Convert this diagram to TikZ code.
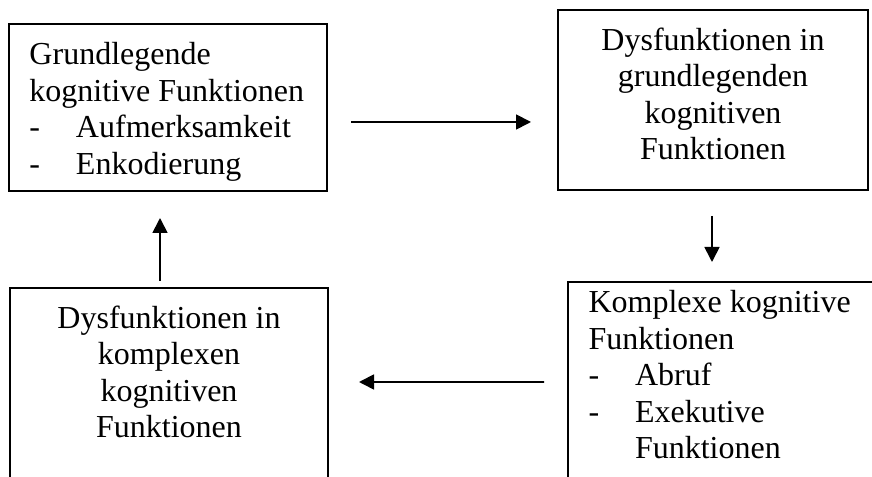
\documentclass[tikz,border=0pt]{standalone}
\usepackage{fontspec}
\setmainfont{Liberation Serif}
\usepackage{tikz}
\usetikzlibrary{calc,arrows.meta}
\newcommand{\strich}[1]{\makebox[18.6pt][l]{-}#1}

\begin{document}
\begin{tikzpicture}[x=0.4pt,y=-0.4pt,
  kasten/.style = {draw, line width=0.8pt, rectangle, inner sep=0pt},
  schrift/.style = {inner sep=0pt, font=\fontsize{12.8}{14.6}\selectfont},
  pfeil/.style = {line width=0.7pt, -{Triangle[length=6pt,width=6pt]}}]
\useasboundingbox (0,0) rectangle (872,477);
\clip (0,0) rectangle (872,477);
\node[kasten, minimum width=127.2pt, minimum height=66.8pt] (grund) at (168,107.5) {};
\node[kasten, minimum width=124pt, minimum height=72pt] (dysgrund) at (713,100) {};
\node[kasten, minimum width=132.8pt, minimum height=95.2pt] (komplex) at (734,401) {};
\node[kasten, minimum width=127.2pt, minimum height=92.8pt] (dyskomplex) at (169,404) {};
\node[schrift, anchor=north west, align=left] (grundtext) at ($(grund.north west)+(21,19)$)
  {Grundlegende\\ kognitive Funktionen\\ \strich{Aufmerksamkeit}\\ \strich{Enkodierung}};
\node[schrift, anchor=north, align=center] (dysgrundtext) at ($(dysgrund.north)+(0,18)$)
  {Dysfunktionen in\\ grundlegenden\\ kognitiven\\ Funktionen};
\node[schrift, anchor=north west, align=left] (komplextext) at ($(komplex.north west)+(21,9)$)
  {Komplexe kognitive\\ Funktionen\\ \strich{Abruf}\\ \strich{Exekutive}\\ \hspace*{18.6pt}Funktionen};
\node[schrift, anchor=north, align=center] (dyskomplextext) at ($(dyskomplex.north)+(0,18)$)
  {Dysfunktionen in\\ komplexen\\ kognitiven\\ Funktionen};
\draw[pfeil] ($(grund.east)+(23,14.5)$) -- ($(dysgrund.west)+(-26,22)$);
\draw[pfeil] ($(dysgrund.south)+(-1,25)$) -- ($(komplex.north)+(-22,-19)$);
\draw[pfeil] ($(komplex.north west)+(-23,101)$) -- ($(dyskomplex.north east)+(30,95)$);
\draw[pfeil] ($(dyskomplex.north)+(-9,-6)$) -- ($(grund.south)+(-8,26)$);
\end{tikzpicture}
\end{document}
